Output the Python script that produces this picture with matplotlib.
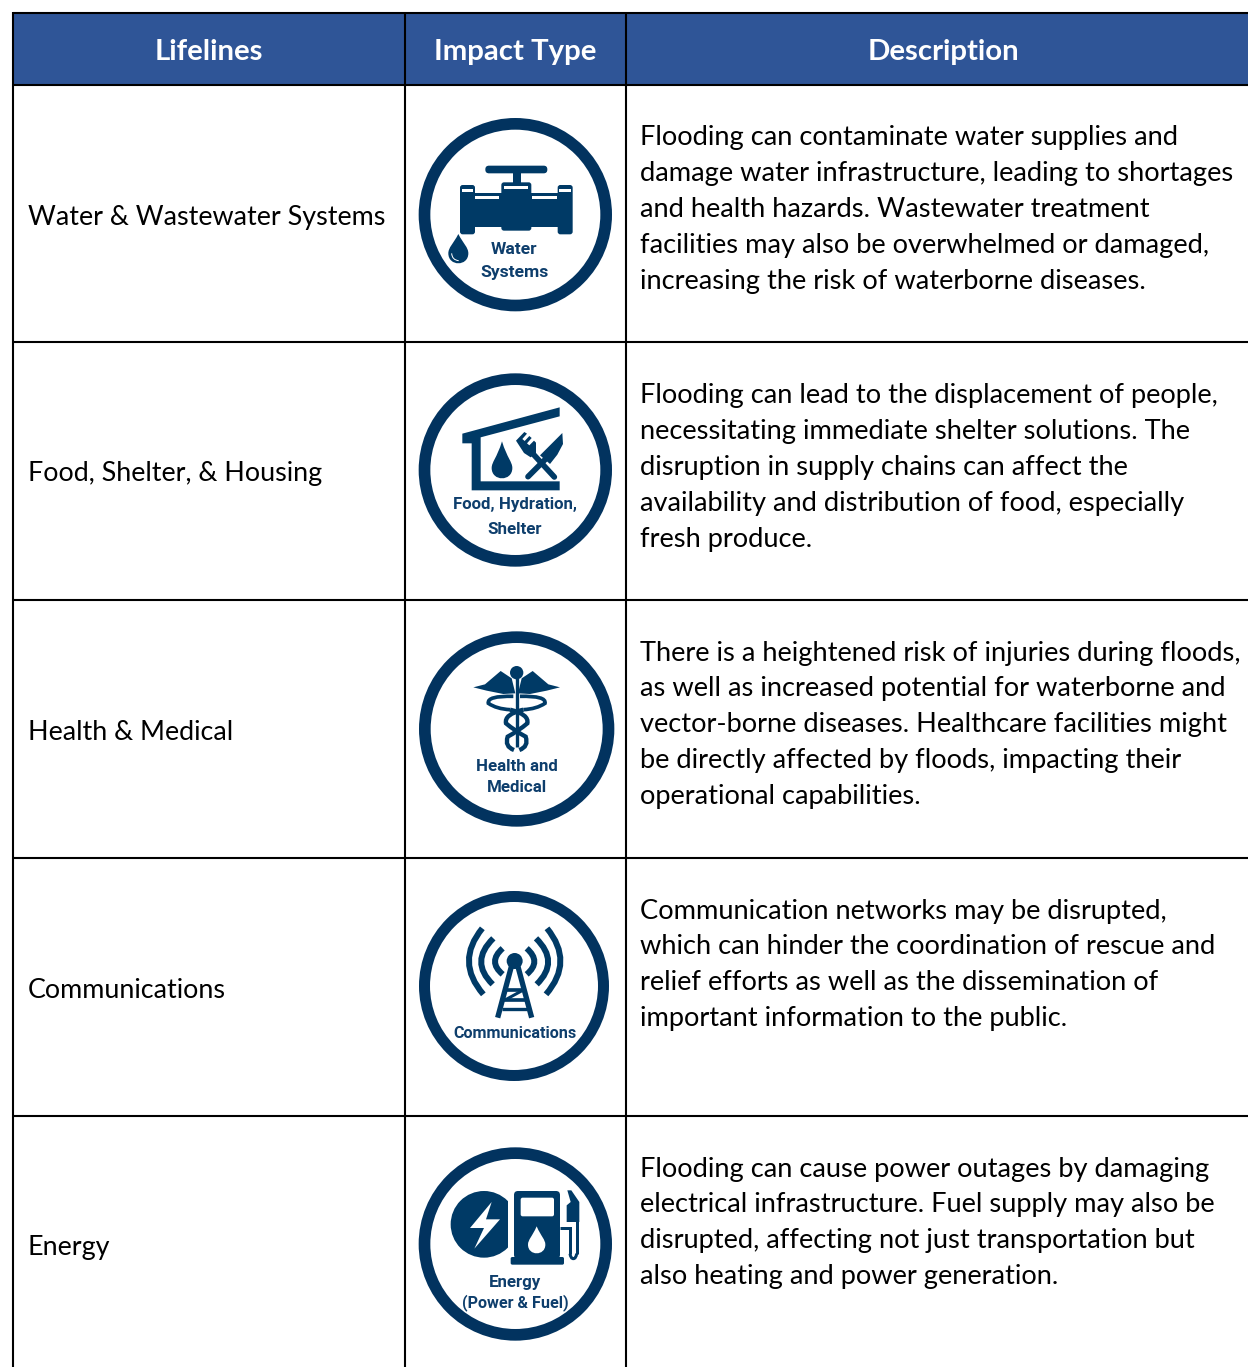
#!/usr/bin/env python
import matplotlib
matplotlib.use('agg')
import matplotlib.pyplot as plt
from matplotlib.patches import Circle, Polygon, Rectangle, FancyBboxPatch, PathPatch
from matplotlib.path import Path

plt.rcParams['font.family'] = ['Lato', 'DejaVu Sans']

########################## table content ###############################
headers = ['Lifelines', 'Impact Type', 'Description']
lifelines = ['Water & Wastewater Systems', 'Food, Shelter, & Housing', 'Health & Medical',
             'Communications', 'Energy']
desc_water = ['Flooding can contaminate water supplies and',
              'damage water infrastructure, leading to shortages',
              'and health hazards. Wastewater treatment',
              'facilities may also be overwhelmed or damaged,',
              'increasing the risk of waterborne diseases.']
desc_food = ['Flooding can lead to the displacement of people,',
             'necessitating immediate shelter solutions. The',
             'disruption in supply chains can affect the',
             'availability and distribution of food, especially',
             'fresh produce.']
desc_health = ['There is a heightened risk of injuries during floods,',
               'as well as increased potential for waterborne and',
               'vector-borne diseases. Healthcare facilities might',
               'be directly affected by floods, impacting their',
               'operational capabilities.']
desc_comms = ['Communication networks may be disrupted,',
              'which can hinder the coordination of rescue and',
              'relief efforts as well as the dissemination of',
              'important information to the public.']
desc_energy = ['Flooding can cause power outages by damaging',
               'electrical infrastructure. Fuel supply may also be',
               'disrupted, affecting not just transportation but',
               'also heating and power generation.']
descriptions = [desc_water, desc_food, desc_health, desc_comms, desc_energy]

########################## layout (pixels) #############################
W, H = 1248, 1367
col_x = [13, 405, 626]
row_y = [85, 342, 600, 858, 1116]
desc_first = [138, 396, 653, 911, 1169]
life_y = [217, 474, 732, 990, 1248]
head_x = [209, 515, 943]
head_y = 52
line_step = 35.9
HEAD = '#2F5597'
RING = '#02335F'
ICON = '#003A66'
LABEL = '#0E3E6C'
NARROW = ['Roboto', 'Liberation Sans']

fig = plt.figure(figsize=(W / 100, H / 100), dpi=100)
ax = fig.add_axes([0, 0, 1, 1])
ax.set_xlim(0, W)
ax.set_ylim(H, 0)
ax.axis('off')

########################## table #######################################
ax.add_patch(Rectangle((col_x[0], 13), W - col_x[0], 72, fc=HEAD, ec='none'))
ax.plot([col_x[0], W], [13, 13], color='black', lw=1.5, solid_capstyle='butt')
for y in row_y:
    ax.plot([col_x[0], W], [y, y], color='black', lw=1.5, solid_capstyle='butt')
for x in col_x:
    ax.plot([x, x], [12, H], color='black', lw=1.5, solid_capstyle='butt')
for name, x in zip(headers, head_x):
    ax.text(x, head_y, name, color='white', fontsize=21.2, fontweight='bold', ha='center', va='center')
for name, y in zip(lifelines, life_y):
    ax.text(28, y, name, color='black', fontsize=19.4, ha='left', va='center')
for lines, y0 in zip(descriptions, desc_first):
    for i, line in enumerate(lines):
        ax.text(640, y0 + i * line_step, line, color='black', fontsize=19.6, ha='left', va='center')


########################## icon helpers ################################
# icon shapes are given in zoom-crop units (3 units = 1 pixel) from a crop corner
class Icon:
    def __init__(self, ox, oy):
        self.ox, self.oy = ox, oy

    def pt(self, x, y):
        return (self.ox + x / 3, self.oy + y / 3)

    def ring(self, x, y, r_out, r_in):
        w = (r_out - r_in) / 3
        ax.add_patch(Circle(self.pt(x, y), (r_out + r_in) / 6, fc='white', ec=RING, lw=w * 0.72))

    def poly(self, pts, color=ICON):
        ax.add_patch(Polygon([self.pt(*p) for p in pts], closed=True, fc=color, ec='none'))

    def box(self, x0, y0, x1, y1, color=ICON, round_=0):
        a = self.pt(x0, y0)
        b = self.pt(x1, y1)
        if round_:
            r = round_ / 3
            ax.add_patch(FancyBboxPatch((a[0] + r, a[1] + r), b[0] - a[0] - 2 * r, b[1] - a[1] - 2 * r,
                                        boxstyle='round,pad=%f,rounding_size=%f' % (r, r), fc=color, ec='none'))
        else:
            ax.add_patch(Rectangle(a, b[0] - a[0], b[1] - a[1], fc=color, ec='none'))

    def disc(self, x, y, r, color=ICON):
        ax.add_patch(Circle(self.pt(x, y), r / 3, fc=color, ec='none'))

    def drop(self, x, y, r, tip_y, color=ICON):
        # round bottom, pointed top, centre (x,y)
        k = r * 1.33
        verts = [(x, tip_y), (x + r * 0.5, y - r * 0.95), (x + r, y - r * 0.6), (x + r, y),
                 (x + r, y + k), (x - r, y + k), (x - r, y),
                 (x - r, y - r * 0.6), (x - r * 0.5, y - r * 0.95), (x, tip_y)]
        codes = [Path.MOVETO] + [Path.CURVE4] * 9
        ax.add_patch(PathPatch(Path([self.pt(*v) for v in verts], codes), fc=color, ec='none'))

    def stroke(self, pts, width, color=ICON, curve=False, cap='butt'):
        v = [self.pt(*p) for p in pts]
        if curve:
            codes = [Path.MOVETO] + [Path.CURVE3] * (len(v) - 1)
        else:
            codes = [Path.MOVETO] + [Path.LINETO] * (len(v) - 1)
        ax.add_patch(PathPatch(Path(v, codes), fc='none', ec=color, lw=width / 3 * 0.72, capstyle=cap))

    def label(self, x, y, s, size=12.6):
        px, py = self.pt(x, y)
        ax.text(px, py + 1, s, color=LABEL, fontsize=size, fontweight='bold', family=NARROW, ha='center', va='center')


########################## water ######################################
ic = Icon(410, 110)
ic.ring(316, 314, 290, 255)
ic.box(226, 167, 412, 190, round_=11)
ic.box(308, 188, 332, 222)
ic.box(150, 225, 195, 373, round_=8)
ic.box(443, 225, 488, 373, round_=8)
ic.box(274, 217, 364, 362, round_=8)
ic.box(190, 250, 448, 350)
for x0, y0, x1, y1 in [(155, 238, 190, 247), (196, 257, 268, 266), (282, 228, 355, 238),
                       (367, 257, 440, 266), (448, 238, 483, 247)]:
    ic.box(x0, y0, x1, y1, color='white')
ic.drop(145, 430, 30, 372)
ic.stroke([(125, 430), (126, 450), (146, 452)], 3, color='white', curve=True)
ic.label(313, 415, 'Water')
ic.label(313, 483, 'Systems')

########################## food #######################################
ic = Icon(410, 368)
ic.ring(316, 306, 290, 255)
ic.poly([(157, 197), (449, 118), (449, 145), (212, 208), (212, 340), (449, 340), (449, 367),
         (185, 367), (185, 226), (157, 226)])
ic.drop(276, 300, 31, 220)
ic.stroke([(433, 327), (362, 250)], 17, cap='round')
ic.poly([(318, 218), (343, 192), (351, 197), (337, 213), (344, 219), (358, 204), (365, 210), (351, 226),
         (358, 232), (372, 218), (378, 224), (378, 255), (362, 268), (342, 255)])
ic.poly([(457, 195), (459, 228), (442, 260), (420, 288), (390, 262)])
ic.stroke([(405, 275), (354, 326)], 17, cap='round')
ic.label(315, 407, 'Food, Hydration,', size=12.2)
ic.label(315, 480, 'Shelter', size=12.2)

########################## health #####################################
ic = Icon(410, 625)
ic.ring(320, 312, 293, 258)
ic.disc(320, 143, 20)
for s in (-1, 1):
    ic.poly([(320 + s * 130, 187), (320 + s * 95, 178), (320 + s * 48, 138), (320 + s * 15, 160),
             (320 + s * 4, 205), (320 + s * 40, 207), (320 + s * 90, 197)])
    ic.stroke([(320 + s * 10, 214), (320 + s * 90, 212), (320 + s * 85, 235), (320 + s * 60, 252),
               (320 + s * 20, 254)], 11, curve=True)
    ic.stroke([(320 + s * 20, 254), (320 - s * 38, 268), (320 - s * 32, 295), (320 - s * 5, 318),
               (320 + s * 27, 335), (320 + s * 37, 365), (320 + s * 8, 375)], 13, curve=True)
ic.stroke([(320, 155), (320, 365)], 10)
ic.label(320, 422, 'Health and', size=12.2)
ic.label(320, 484, 'Medical', size=12.2)

########################## communications #############################
ic = Icon(410, 885)
ic.ring(312, 303, 285, 252)
left_arcs = [((217, 130), (135, 230), (220, 328), 18),
             ((250, 160), (178, 230), (248, 298), 18),
             ((278, 190), (232, 230), (278, 268), 18)]
for a, c, b, w in left_arcs:
    ic.stroke([a, c, b], w, curve=True)
    ic.stroke([(628 - a[0], a[1]), (628 - c[0], c[1]), (628 - b[0], b[1])], w, curve=True)
ic.disc(314, 228, 24)
ic.stroke([(304, 245), (263, 398)], 16)
ic.stroke([(324, 245), (365, 398)], 16)
ic.stroke([(285, 315), (342, 315)], 11)
ic.stroke([(280, 345), (350, 345)], 11)
ic.stroke([(285, 345), (340, 315)], 9)
ic.stroke([(275, 372), (352, 372)], 10)
ic.label(314, 443, 'Communications', size=11.6)

########################## energy #####################################
ic = Icon(410, 1142)
ic.ring(316, 306, 290, 255)
clip = Rectangle(ic.pt(100, 130), 195 / 3, 240 / 3, transform=ax.transData)
c = Circle(ic.pt(222, 247), 100 / 3, fc=ICON, ec='none')
ax.add_patch(c)
c.set_clip_path(clip)
ic.poly([(245, 180), (180, 258), (222, 258), (193, 320), (270, 232), (228, 232)], color='white')
ic.box(312, 147, 450, 350, round_=12)
ic.box(302, 345, 462, 368, round_=5)
ic.box(332, 167, 432, 223, color='white', round_=6)
ic.drop(380, 308, 26, 253, color='white')
ic.poly([(472, 145), (484, 145), (508, 180), (508, 240), (470, 240), (470, 190), (482, 180)])
ic.stroke([(450, 257), (480, 257), (480, 335)], 9)
ic.stroke([(480, 335), (482, 350), (490, 350), (498, 350), (500, 335)], 9, curve=True)
ic.stroke([(500, 335), (500, 238)], 9)
ic.label(316, 418, 'Energy', size=12.2)
ic.label(316, 478, '(Power & Fuel)', size=11.6)

fig.savefig('out.png', dpi=100)
